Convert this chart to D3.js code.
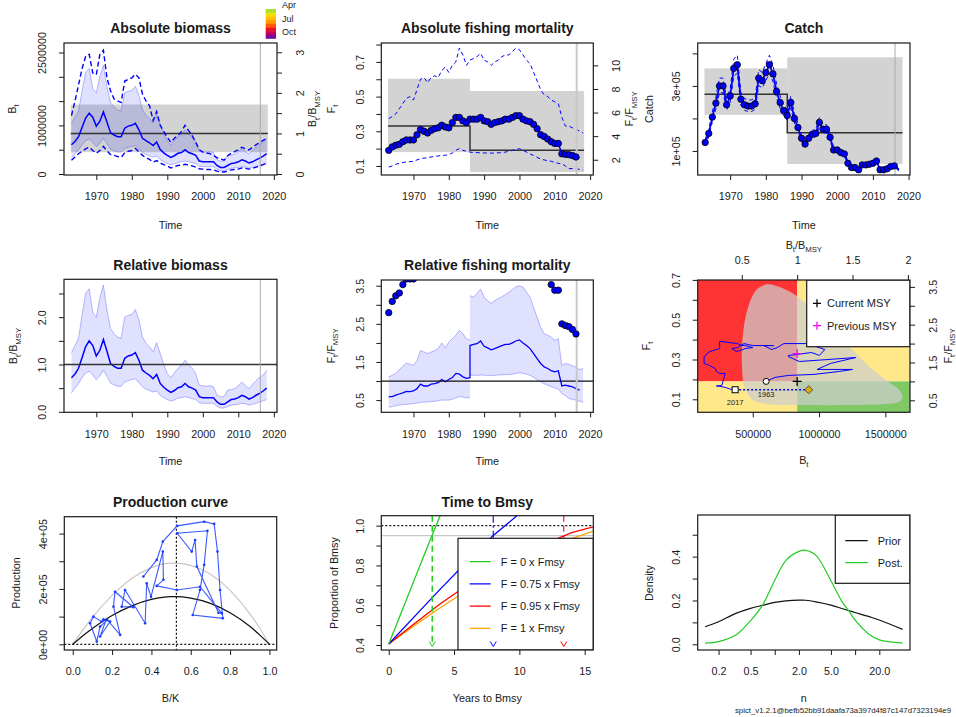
<!DOCTYPE html>
<html><head><meta charset="utf-8">
<script src="https://cdn.jsdelivr.net/npm/d3@7"></script>
<style>
body{margin:0;background:#fff;}
svg{display:block;}
</style></head><body>
<svg id="c" width="956" height="717"></svg>
<script>
// ---------------- DATA ----------------
const years = d3.range(1963, 2019); // 1963..2018
const relB   = [0.72,0.80,0.92,1.15,1.38,1.50,1.40,1.18,1.30,1.53,1.28,1.02,0.96,0.92,0.92,1.13,1.18,1.20,1.25,1.09,0.88,0.82,0.77,0.70,0.79,0.60,0.52,0.46,0.41,0.45,0.51,0.53,0.60,0.53,0.50,0.46,0.32,0.30,0.30,0.30,0.30,0.21,0.16,0.16,0.21,0.26,0.27,0.30,0.35,0.32,0.27,0.30,0.35,0.39,0.44,0.50];
const relBhi = [1.25,1.40,1.55,2.05,2.50,2.60,2.10,2.00,2.40,2.68,2.15,1.76,1.65,1.58,1.55,2.00,2.04,2.06,2.16,1.94,1.58,1.45,1.37,1.27,1.46,1.23,1.00,0.81,0.72,0.82,0.92,0.98,1.09,0.99,0.92,0.81,0.56,0.55,0.54,0.55,0.53,0.35,0.32,0.32,0.46,0.47,0.49,0.55,0.63,0.55,0.49,0.58,0.66,0.73,0.78,0.88];
const relBlo = [0.40,0.50,0.60,0.72,0.82,0.86,0.78,0.68,0.76,0.88,0.75,0.61,0.57,0.54,0.54,0.63,0.66,0.68,0.70,0.62,0.53,0.48,0.45,0.42,0.44,0.35,0.30,0.26,0.23,0.25,0.29,0.30,0.32,0.30,0.28,0.26,0.19,0.18,0.18,0.18,0.18,0.12,0.08,0.08,0.11,0.14,0.15,0.16,0.18,0.17,0.14,0.16,0.18,0.21,0.23,0.26];
// absolute biomass CI incl. reference point uncertainty (thousand tonnes)
const absBhiK = [1202,1503,1837,2171,2422,2463,2079,2046,2463,2547,1979,1712,1545,1503,1470,1912,1946,1979,2054,1979,1645,1503,1403,1102,1286,1002,877,752,651,735,793,877,1002,893,793,651,501,451,434,418,384,334,309,284,376,426,459,501,551,518,493,551,601,651,693,735];
const absBloK = [284,351,418,468,518,551,484,426,484,568,476,401,384,359,342,434,468,484,526,459,384,334,301,242,276,225,192,167,125,150,175,184,200,184,167,142,109,100,92,92,84,58,42,42,58,84,92,100,125,117,100,117,142,167,192,225];
const Bmsy = 835000;
const BmsyLo = 450000, BmsyHi = 1430000;

const fYears = d3.range(1963, 2018); // 1963..2017
const Fest = [0.19,0.21,0.22,0.225,0.24,0.25,0.25,0.25,0.28,0.31,0.30,0.29,0.305,0.315,0.32,0.335,0.325,0.32,0.35,0.38,0.38,0.36,0.35,0.37,0.37,0.37,0.38,0.36,0.355,0.34,0.35,0.355,0.36,0.37,0.37,0.38,0.39,0.39,0.37,0.36,0.355,0.34,0.315,0.28,0.27,0.255,0.24,0.23,0.23,0.17,0.167,0.165,0.16,0.152,0.148];
const Fhi = [0.373,0.385,0.40,0.43,0.46,0.49,0.50,0.48,0.54,0.60,0.61,0.58,0.61,0.62,0.61,0.65,0.67,0.64,0.68,0.70,0.78,0.74,0.68,0.71,0.72,0.73,0.75,0.71,0.70,0.68,0.70,0.71,0.73,0.74,0.74,0.76,0.78,0.77,0.74,0.71,0.69,0.64,0.59,0.54,0.51,0.50,0.48,0.47,0.46,0.38,0.33,0.33,0.32,0.315,0.30,0.29];
const Flo = [0.094,0.10,0.11,0.115,0.12,0.123,0.125,0.127,0.135,0.142,0.145,0.148,0.152,0.155,0.158,0.16,0.162,0.165,0.175,0.19,0.20,0.19,0.185,0.18,0.178,0.177,0.176,0.175,0.175,0.174,0.175,0.176,0.177,0.18,0.185,0.19,0.195,0.20,0.19,0.18,0.17,0.16,0.15,0.14,0.135,0.13,0.127,0.12,0.115,0.113,0.10,0.085,0.085,0.085,0.08,0.075];
const FmsyPrev = 0.068;   // scale of secondary F axis / points in relative F plot

// regimes (reference points)
const regStart = [1962.8, 1986], regEnd = [1986, 2018.3];
const FmsyR = [0.33, 0.19], FmsyRlo = [0.18, 0.065], FmsyRhi = [0.603, 0.532];
const MSYR = [2.74e5, 1.56e5], MSYRlo = [2.11e5, 0.60e5], MSYRhi = [3.54e5, 3.88e5];
const FmsyNow = 0.19;
const lastObs = 2016.2;

const cYears = d3.range(1963, 2017);
const catchT = [1.26e5,1.54e5,2.04e5,2.47e5,3.0e5,3.0e5,2.42e5,2.69e5,3.54e5,3.65e5,2.59e5,2.42e5,2.38e5,2.38e5,2.45e5,3.24e5,3.16e5,3.41e5,3.65e5,3.37e5,2.83e5,2.49e5,2.24e5,2.09e5,2.49e5,2.0e5,1.72e5,1.39e5,1.21e5,1.39e5,1.51e5,1.54e5,1.88e5,1.67e5,1.67e5,1.42e5,1.03e5,1.03e5,0.95e5,0.91e5,0.62e5,0.49e5,0.49e5,0.42e5,0.57e5,0.57e5,0.59e5,0.62e5,0.69e5,0.42e5,0.42e5,0.45e5,0.52e5,0.54e5];
const catchPredYear = 2017.3, catchPredVal = 0.42e5;
const catchCI = [0.93, 1.08];

const relFpreYears = d3.range(1963, 1987);
const relFpre   = [0.59,0.59,0.63,0.66,0.69,0.73,0.72,0.74,0.80,0.92,0.87,0.87,0.92,0.93,0.96,1.04,0.98,1.04,1.09,1.20,1.18,1.11,1.07,1.09];
const relFhiPre = [1.11,1.15,1.20,1.30,1.39,1.47,1.44,1.41,1.54,1.80,1.76,1.72,1.76,1.80,1.85,2.00,1.87,2.02,2.11,2.20,2.33,2.24,2.11,2.07];
const relFloPre = [0.31,0.33,0.35,0.37,0.38,0.39,0.40,0.41,0.42,0.44,0.45,0.45,0.46,0.47,0.48,0.50,0.50,0.50,0.52,0.56,0.59,0.58,0.56,0.56];
const relFpostYears = d3.range(1986, 2019);
const relFpost   = [1.93,1.96,1.98,2.05,1.91,1.87,1.82,1.85,1.89,1.93,1.96,1.96,2.0,2.05,2.08,2.0,1.93,1.85,1.72,1.59,1.46,1.37,1.33,1.27,1.24,1.27,0.87,0.89,0.87,0.85,0.80,0.76];
const relFhiPost = [3.24,3.20,3.30,3.41,3.20,3.11,3.04,3.11,3.16,3.21,3.27,3.33,3.40,3.47,3.50,3.46,3.33,3.20,2.93,2.67,2.41,2.24,2.20,2.15,2.07,2.11,1.41,1.46,1.44,1.40,1.37,1.30,1.33];
const relFloPost = [1.15,1.15,1.15,1.16,1.15,1.15,1.14,1.15,1.16,1.16,1.17,1.17,1.18,1.20,1.22,1.20,1.18,1.15,1.10,1.04,0.98,0.93,0.89,0.85,0.82,0.79,0.67,0.62,0.54,0.52,0.50,0.47,0.44];

// Kobe
const kobeCIB = [613,726,821,927,1028,1128,1254,1379,1505,1605,1631,1605,1505,1254,877,625,500,437,419,419,437,474,525,575]; // thousand t
const kobeCIF = [0.678,0.658,0.624,0.565,0.498,0.432,0.348,0.264,0.197,0.147,0.113,0.088,0.076,0.071,0.071,0.075,0.096,0.163,0.264,0.364,0.482,0.582,0.649,0.671];
const kobeEqB = 922000;

// production curve
const prodGrid = [0,0.05,0.1,0.2,0.3,0.4,0.5,0.52,0.6,0.7,0.8,0.9,0.95,1.0];
const prodCur  = [0,0.30e5,0.57e5,1.04e5,1.39e5,1.62e5,1.72e5,1.72e5,1.67e5,1.48e5,1.14e5,0.65e5,0.34e5,0];
const prodPrev = [0,0.50e5,0.97e5,1.77e5,2.38e5,2.77e5,2.93e5,2.93e5,2.85e5,2.53e5,1.95e5,1.11e5,0.59e5,0];
const BmsyK = 0.527;
const prodBK = [0.359,0.427,0.458,0.531,0.668,0.719,0.736,0.749,0.763,0.610,0.647,0.668,0.685,0.531,0.605,0.622,0.631,0.741,0.758,0.647,0.529,0.427,0.461,0.458,0.398,0.376,0.368,0.266,0.249,0.308,0.215,0.207,0.241,0.176,0.139,0.122,0.088,0.105,0.147,0.169,0.139,0.190,0.156];
const prodP  = [2.45e5,3.05e5,3.71e5,4.28e5,4.43e5,4.35e5,3.35e5,1.96e5,0.94e5,1.06e5,1.96e5,2.87e5,4.10e5,4.01e5,3.35e5,3.77e5,2.81e5,1.14e5,1.12e5,2.08e5,1.96e5,2.11e5,2.33e5,3.35e5,1.72e5,2.20e5,0.76e5,1.96e5,1.36e5,1.34e5,1.90e5,1.36e5,0.34e5,0.88e5,0.64e5,0.10e5,0.76e5,1.0e5,0.82e5,0.88e5,0.28e5,0.82e5,0.90e5];

// time to Bmsy
const ttbLabels = ["F = 0 x Fmsy","F = 0.75 x Fmsy","F = 0.95 x Fmsy","F = 1 x Fmsy"];
const ttbColors = ["#22cc22","#0000ff","#ff0000","#ffa500"];
const ttbT0 = [0,1,2,3,4],            ttbGreen = [0.405,0.57,0.735,0.90,1.06];
const ttbT1 = [0,2,4,6,8,10],         ttbBlue  = [0.405,0.545,0.685,0.82,0.95,1.06];
const ttbT2 = [0,2,4,6,8,10,12,14,16];
const ttbRed    = [0.405,0.51,0.61,0.70,0.78,0.85,0.91,0.965,1.0];
const ttbOrange = [0.405,0.50,0.59,0.675,0.75,0.82,0.88,0.935,0.98];
const ttbReach = [3.33, 8.0, 13.4];

// prior / posterior of n
const nGrid = [0.136,0.2,0.328,0.5,0.706,1,1.38,2,2.44,3.26,5,7,8.45,10,15,20,39];
const nPrior = [0.080,0.103,0.141,0.164,0.178,0.191,0.198,0.2015,0.201,0.194,0.179,0.162,0.153,0.145,0.126,0.111,0.068];
const nPost  = [0.005,0.012,0.042,0.108,0.179,0.292,0.383,0.424,0.429,0.406,0.29,0.19,0.15,0.11,0.045,0.02,0.005];

const monthLabels = ["Apr","Jul","Oct"];
const monthColors = ["#a6e22e","#f4e000","#ffc000","#ff9a00","#ff5a00","#f01020","#c8005a","#7a0a9a"];

// ---------------- HELPERS ----------------
const svg = d3.select("#c");
const FONT = "'Liberation Sans', Arial, Helvetica, sans-serif";
const INK = "#1a1a1a";
let clipN = 0;
function clipG(b){
  const id = "cp" + (clipN++);
  svg.append("clipPath").attr("id", id).append("rect")
    .attr("x", b.x0).attr("y", b.y0).attr("width", b.x1 - b.x0).attr("height", b.y1 - b.y0);
  return svg.append("g").attr("clip-path", `url(#${id})`);
}
function frame(b){
  svg.append("rect").attr("x", b.x0).attr("y", b.y0).attr("width", b.x1 - b.x0).attr("height", b.y1 - b.y0)
    .attr("fill", "none").attr("stroke", INK).attr("stroke-width", 1.2);
}
function near(a, b){ return Math.abs(a - b) < 1e-9 * Math.max(1, Math.abs(b)); }
function axis(side, scale, b, ticks, labels, fmt){
  const A = {bottom: d3.axisBottom, top: d3.axisTop, left: d3.axisLeft, right: d3.axisRight}[side];
  const ax = A(scale).tickValues(ticks).tickSize(5)
    .tickFormat(d => labels.some(v => near(v, d)) ? fmt(d) : "");
  const pos = {bottom: [0, b.y1], top: [0, b.y0], left: [b.x0, 0], right: [b.x1, 0]}[side];
  const g = svg.append("g").attr("transform", `translate(${pos[0]},${pos[1]})`).call(ax);
  g.select(".domain").remove();
  g.selectAll(".tick line").attr("stroke", INK).attr("stroke-width", 1);
  const t = g.selectAll(".tick text").attr("fill", INK).attr("font-size", 10.8).attr("font-family", FONT);
  if (side === "bottom") t.attr("y", 21.7).attr("dy", "0.35em");
  if (side === "top") t.attr("y", -19.5).attr("dy", "0.35em");
  if (side === "left") t.attr("x", 0).attr("y", -21.5).attr("dy", "0.35em").attr("text-anchor", "middle").attr("transform", "rotate(-90)");
  if (side === "right") t.attr("x", 0).attr("y", 23).attr("dy", "0.35em").attr("text-anchor", "middle").attr("transform", "rotate(-90)");
}
function label(x, y, parts, rot, size = 10.8, anchor = "middle", color = INK){
  const g = svg.append("g").attr("transform", `translate(${x},${y})${rot ? " rotate(-90)" : ""}`);
  const t = g.append("text").attr("font-size", size).attr("font-family", FONT).attr("fill", color)
    .attr("text-anchor", anchor).attr("dy", "0.35em");
  if (typeof parts === "string") parts = [[parts, false]];
  let sub = false;
  parts.forEach(([s, isSub]) => {
    const ts = t.append("tspan").text(s);
    if (isSub) { ts.attr("font-size", size * 0.72); if (!sub) ts.attr("dy", size * 0.3); sub = true; }
    else { if (sub) ts.attr("dy", -size * 0.3); sub = false; }
  });
  return t;
}
function title(b, s, y){
  svg.append("text").attr("x", (b.x0 + b.x1) / 2).attr("y", y).attr("text-anchor", "middle").attr("dy", "0.35em")
    .attr("font-weight", "bold").attr("font-size", 14).attr("font-family", FONT).attr("fill", INK).text(s);
}
function line(g, xs, ys, sx, sy, attrs, curve){
  const l = d3.line().x((d, i) => sx(xs[i])).y((d, i) => sy(ys[i]));
  if (curve) l.curve(curve);
  const p = g.append("path").datum(ys).attr("d", l).attr("fill", "none");
  Object.entries(attrs).forEach(([k, v]) => p.attr(k, v));
  return p;
}
function band(g, xs, lo, hi, sx, sy, fill, edge){
  const a = d3.area().x((d, i) => sx(xs[i])).y0((d, i) => sy(lo[i])).y1((d, i) => sy(hi[i]));
  g.append("path").datum(lo).attr("d", a).attr("fill", fill);
  if (edge) {
    line(g, xs, lo, sx, sy, {stroke: edge, "stroke-width": 1});
    line(g, xs, hi, sx, sy, {stroke: edge, "stroke-width": 1});
  }
}
const fmtD = d3.format("d"), fmt1 = d3.format(".1f");
const fmtE = d => d.toExponential(0).replace(/e([+-])(\d)$/, "e$10$2");
const yearTicks = [1970, 1980, 1990, 2000, 2010, 2020];
const lavender = "rgba(0,0,255,0.12)", lavEdge = "rgba(60,60,255,0.35)";

// ---------------- PANEL 1: Absolute biomass ----------------
const b1 = {x0: 64, x1: 277, y0: 43, y1: 175};
const xT = d3.scaleLinear([1960.9, 2020.9], [b1.x0, b1.x1]);
const yB = d3.scaleLinear([-20600, 2696000], [b1.y1, b1.y0]);
const yBr = d3.scaleLinear([-20600 / Bmsy, 2696000 / Bmsy], [b1.y1, b1.y0]);
{
  const g = clipG(b1);
  g.append("rect").attr("x", xT(regStart[0])).attr("width", xT(regEnd[1]) - xT(regStart[0]))
    .attr("y", yB(BmsyHi)).attr("height", yB(BmsyLo) - yB(BmsyHi)).attr("fill", "#d3d3d3");
  band(g, years, relBlo.map(v => v * Bmsy), relBhi.map(v => v * Bmsy), xT, yB, lavender, lavEdge);
  g.append("line").attr("x1", xT(regStart[0])).attr("x2", xT(regEnd[1])).attr("y1", yB(Bmsy)).attr("y2", yB(Bmsy))
    .attr("stroke", "#333").attr("stroke-width", 1.5);
  line(g, years, absBhiK.map(v => v * 1000), xT, yB, {stroke: "#0000ff", "stroke-width": 1.4, "stroke-dasharray": "5,3"});
  line(g, years, absBloK.map(v => v * 1000), xT, yB, {stroke: "#0000ff", "stroke-width": 1.4, "stroke-dasharray": "5,3"});
  line(g, years, relB.map(v => v * Bmsy), xT, yB, {stroke: "#0000ff", "stroke-width": 1.5});
  g.append("line").attr("x1", xT(lastObs)).attr("x2", xT(lastObs)).attr("y1", b1.y0).attr("y2", b1.y1).attr("stroke", "#aaa");
  frame(b1);
  axis("bottom", xT, b1, yearTicks, yearTicks, fmtD);
  axis("left", yB, b1, d3.range(0, 2500001, 500000), [0, 1000000, 2500000], fmtD);
  axis("right", yBr, b1, d3.range(0, 3.01, 0.5), [0, 1, 2, 3], fmtD);
  title(b1, "Absolute biomass", 28);
  label(12, 109, [["B", false], ["t", true]], true);
  label(312.5, 109, [["B", false], ["t", true], ["/", false], ["B", false], ["MSY", true]], true);
  label(170.5, 225, "Time", false);
  // month colour key
  const my = d3.scaleBand().domain(d3.range(monthColors.length)).range([9, 38.5]);
  svg.selectAll("rect.mk").data(monthColors).join("rect").attr("class", "mk")
    .attr("x", 265.7).attr("width", 10.3).attr("y", (d, i) => my(i)).attr("height", my.bandwidth() + 0.3).attr("fill", d => d);
  const ml = d3.scaleLinear([0, 2], [5, 31.7]);
  monthLabels.forEach((m, i) => svg.append("text").attr("x", 282).attr("y", ml(i)).attr("dy", "0.35em")
    .attr("font-size", 9).attr("font-family", FONT).attr("fill", INK).text(m));
}

// ---------------- PANEL 2: Absolute fishing mortality ----------------
const b2 = {x0: 381.3, x1: 593.3, y0: 43, y1: 175};
const xT2 = d3.scaleLinear([1960.9, 2020.9], [b2.x0, b2.x1]);
const yF = d3.scaleLinear([0.048, 0.809], [b2.y1, b2.y0]);
const yFr = d3.scaleLinear([0.048 / FmsyPrev, 0.809 / FmsyPrev], [b2.y1, b2.y0]);
{
  const g = clipG(b2);
  regStart.forEach((s, i) => g.append("rect").attr("x", xT2(s)).attr("width", xT2(regEnd[i]) - xT2(s))
    .attr("y", yF(FmsyRhi[i])).attr("height", yF(FmsyRlo[i]) - yF(FmsyRhi[i])).attr("fill", "#d3d3d3"));
  const stepX = [regStart[0], regEnd[0], regStart[1], regEnd[1]];
  const stepY = [FmsyR[0], FmsyR[0], FmsyR[1], FmsyR[1]];
  line(g, stepX, stepY, xT2, yF, {stroke: "#333", "stroke-width": 1.5});
  line(g, years, Fhi, xT2, yF, {stroke: "#0000ff", "stroke-width": 1, "stroke-dasharray": "4,3"});
  line(g, years, Flo, xT2, yF, {stroke: "#0000ff", "stroke-width": 1, "stroke-dasharray": "4,3"});
  line(g, fYears, Fest, xT2, yF, {stroke: "#0000ff", "stroke-width": 1.5});
  g.append("line").attr("x1", xT2(lastObs)).attr("x2", xT2(lastObs)).attr("y1", b2.y0).attr("y2", b2.y1).attr("stroke", "#c8c8c8").attr("stroke-width", 2);
  g.selectAll("circle.fp").data(Fest.slice(0, 54)).join("circle").attr("class", "fp")
    .attr("cx", (d, i) => xT2(fYears[i])).attr("cy", d => yF(d)).attr("r", 3.2)
    .attr("fill", "#0000ff").attr("stroke", "#000").attr("stroke-width", 0.8);
  frame(b2);
  axis("bottom", xT2, b2, yearTicks, yearTicks, fmtD);
  axis("left", yF, b2, d3.range(0.1, 0.801, 0.1), [0.1, 0.3, 0.5, 0.7], fmt1);
  axis("right", yFr, b2, [2, 4, 6, 8, 10], [2, 4, 6, 8, 10], fmtD);
  title(b2, "Absolute fishing mortality", 28);
  label(331, 109, [["F", false], ["t", true]], true);
  label(629.5, 109, [["F", false], ["t", true], ["/", false], ["F", false], ["MSY", true]], true);
  label((b2.x0 + b2.x1) / 2, 225, "Time", false);
}

// ---------------- PANEL 3: Catch ----------------
const b3 = {x0: 697.7, x1: 910, y0: 43, y1: 175};
const xT3 = d3.scaleLinear([1960.9, 2020.4], [b3.x0, b3.x1]);
const yC = d3.scaleLinear([0.26e5, 4.32e5], [b3.y1, b3.y0]);
{
  const g = clipG(b3);
  regStart.forEach((s, i) => g.append("rect").attr("x", xT3(s)).attr("width", xT3(regEnd[i]) - xT3(s))
    .attr("y", yC(MSYRhi[i])).attr("height", yC(MSYRlo[i]) - yC(MSYRhi[i])).attr("fill", "#d3d3d3"));
  const stepX = [regStart[0], regEnd[0], regStart[1], regEnd[1]];
  const stepY = [MSYR[0], MSYR[0], MSYR[1], MSYR[1]];
  line(g, stepX, stepY, xT3, yC, {stroke: "#333", "stroke-width": 1.5});
  const cx = cYears.concat([catchPredYear]), cy = catchT.concat([catchPredVal]);
  line(g, cx, cy.map(v => v * catchCI[1]), xT3, yC, {stroke: "#0000ff", "stroke-width": 1, "stroke-dasharray": "4,3"});
  line(g, cx, cy.map(v => v * catchCI[0]), xT3, yC, {stroke: "#0000ff", "stroke-width": 1, "stroke-dasharray": "4,3"});
  line(g, cx, cy, xT3, yC, {stroke: "#0000ff", "stroke-width": 1.8});
  g.append("line").attr("x1", xT3(lastObs)).attr("x2", xT3(lastObs)).attr("y1", b3.y0).attr("y2", b3.y1).attr("stroke", "#aaa");
  g.selectAll("circle.cp").data(catchT).join("circle").attr("class", "cp")
    .attr("cx", (d, i) => xT3(cYears[i])).attr("cy", d => yC(d)).attr("r", 3.2)
    .attr("fill", "#0000ff").attr("stroke", "#000").attr("stroke-width", 0.8);
  frame(b3);
  axis("bottom", xT3, b3, yearTicks, yearTicks, fmtD);
  axis("left", yC, b3, [1e5, 2e5, 3e5, 4e5], [1e5, 3e5], fmtE);
  title(b3, "Catch", 28);
  label(649, 109, "Catch", true);
  label((b3.x0 + b3.x1) / 2, 225, "Time", false);
}

// ---------------- PANEL 4: Relative biomass ----------------
const b4 = {x0: 64, x1: 277, y0: 279.3, y1: 412.3};
const yRB = d3.scaleLinear([-0.01, 2.80], [b4.y1, b4.y0]);
{
  const g = clipG(b4);
  band(g, years, relBlo, relBhi, xT, yRB, lavender, lavEdge);
  line(g, years, relB, xT, yRB, {stroke: "#0000ff", "stroke-width": 1.5});
  g.append("line").attr("x1", b4.x0).attr("x2", b4.x1).attr("y1", yRB(1)).attr("y2", yRB(1)).attr("stroke", "#333").attr("stroke-width", 1.5);
  g.append("line").attr("x1", xT(lastObs)).attr("x2", xT(lastObs)).attr("y1", b4.y0).attr("y2", b4.y1).attr("stroke", "#aaa");
  frame(b4);
  axis("bottom", xT, b4, yearTicks, yearTicks, fmtD);
  axis("left", yRB, b4, [0, 0.5, 1, 1.5, 2, 2.5], [0, 1, 2], fmt1);
  title(b4, "Relative biomass", 265);
  label(13.5, 346, [["B", false], ["t", true], ["/", false], ["B", false], ["MSY", true]], true);
  label(170.5, 461.7, "Time", false);
}

// ---------------- PANEL 5: Relative fishing mortality ----------------
const b5 = {x0: 381.3, x1: 593.3, y0: 280, y1: 412.3};
const yRF = d3.scaleLinear([0.18, 3.65], [b5.y1, b5.y0]);
{
  const g = clipG(b5);
  band(g, relFpreYears, relFloPre, relFhiPre, xT2, yRF, lavender, lavEdge);
  band(g, relFpostYears, relFloPost, relFhiPost, xT2, yRF, lavender, lavEdge);
  const lx = relFpreYears.concat(relFpostYears.slice(0, relFpost.length));
  const ly = relFpre.concat(relFpost);
  line(g, lx, ly, xT2, yRF, {stroke: "#0000ff", "stroke-width": 1.3});
  g.append("line").attr("x1", b5.x0).attr("x2", b5.x1).attr("y1", yRF(1)).attr("y2", yRF(1)).attr("stroke", "#111").attr("stroke-width", 1.3);
  g.append("line").attr("x1", xT2(lastObs)).attr("x2", xT2(lastObs)).attr("y1", b5.y0).attr("y2", b5.y1).attr("stroke", "#c8c8c8").attr("stroke-width", 2);
  g.selectAll("circle.rp").data(Fest.slice(0, 54)).join("circle").attr("class", "rp")
    .attr("cx", (d, i) => xT2(fYears[i])).attr("cy", d => yRF(d / FmsyPrev)).attr("r", 3.2)
    .attr("fill", "#0000ff").attr("stroke", "#000").attr("stroke-width", 0.8);
  frame(b5);
  axis("bottom", xT2, b5, yearTicks, yearTicks, fmtD);
  axis("left", yRF, b5, d3.range(0.5, 3.51, 0.5), [0.5, 1.5, 2.5, 3.5], fmt1);
  title(b5, "Relative fishing mortality", 265);
  label(331, 346, [["F", false], ["t", true], ["/", false], ["F", false], ["MSY", true]], true);
  label((b5.x0 + b5.x1) / 2, 461.7, "Time", false);
}

// ---------------- PANEL 6: Kobe ----------------
const b6 = {x0: 697.7, x1: 910, y0: 280, y1: 412.3};
const xKB = d3.scaleLinear([85000, 1686000], [b6.x0, b6.x1]);
const xKr = d3.scaleLinear([85000 / Bmsy, 1686000 / Bmsy], [b6.x0, b6.x1]);
const yKF = d3.scaleLinear([0.0347, 0.6995], [b6.y1, b6.y0]);
const yKr = d3.scaleLinear([0.0347 / FmsyNow, 0.6995 / FmsyNow], [b6.y1, b6.y0]);
{
  const g = clipG(b6);
  const xm = xKB(Bmsy), ym = yKF(FmsyNow);
  g.append("rect").attr("x", b6.x0).attr("y", b6.y0).attr("width", xm - b6.x0).attr("height", ym - b6.y0).attr("fill", "#ff3333");
  g.append("rect").attr("x", xm).attr("y", b6.y0).attr("width", b6.x1 - xm).attr("height", ym - b6.y0).attr("fill", "#ffe88a");
  g.append("rect").attr("x", b6.x0).attr("y", ym).attr("width", xm - b6.x0).attr("height", b6.y1 - ym).attr("fill", "#ffe88a");
  g.append("rect").attr("x", xm).attr("y", ym).attr("width", b6.x1 - xm).attr("height", b6.y1 - ym).attr("fill", "#80c864");
  const ci = d3.line().x((d, i) => xKB(kobeCIB[i] * 1000)).y((d, i) => yKF(kobeCIF[i])).curve(d3.curveCatmullRomClosed);
  g.append("path").datum(kobeCIF).attr("d", ci).attr("fill", "rgba(205,205,205,0.72)");
  const kb = relB.slice(0, Fest.length).map(v => v * Bmsy);
  line(g, kb, Fest, xKB, yKF, {stroke: "#0000ff", "stroke-width": 1});
  const n = Fest.length - 1;
  g.append("line").attr("x1", xKB(kb[n])).attr("x2", xKB(kobeEqB)).attr("y1", yKF(Fest[n])).attr("y2", yKF(Fest[n]))
    .attr("stroke", "#0000ff").attr("stroke-width", 1.5).attr("stroke-dasharray", "2,2");
  g.append("circle").attr("cx", xKB(kb[0])).attr("cy", yKF(Fest[0])).attr("r", 3).attr("fill", "#fff").attr("stroke", "#000");
  g.append("rect").attr("x", xKB(kb[n]) - 3).attr("y", yKF(Fest[n]) - 3).attr("width", 6).attr("height", 6).attr("fill", "#fff").attr("stroke", "#000");
  const dx = xKB(kobeEqB), dy = yKF(Fest[n]);
  g.append("path").attr("d", `M${dx},${dy - 4}L${dx + 4},${dy}L${dx},${dy + 4}L${dx - 4},${dy}Z`).attr("fill", "#e0a800").attr("stroke", "#333").attr("stroke-width", 0.8);
  g.append("text").attr("x", xKB(kb[0])).attr("y", yKF(Fest[0]) + 13).attr("dy", "0.35em").attr("text-anchor", "middle")
    .attr("font-size", 7.5).attr("font-family", FONT).attr("fill", INK).text(years[0]);
  g.append("text").attr("x", xKB(kb[n])).attr("y", yKF(Fest[n]) + 13).attr("dy", "0.35em").attr("text-anchor", "middle")
    .attr("font-size", 7.5).attr("font-family", FONT).attr("fill", INK).text(fYears[n]);
  const plus = (x, y, c, s) => g.append("path").attr("d", `M${x - s},${y}H${x + s}M${x},${y - s}V${y + s}`).attr("stroke", c).attr("stroke-width", 1.3);
  plus(xm, yKF(FmsyR[0]), "#ff00ff", 4.5);
  plus(xm, ym, "#000", 4.5);
  // legend
  g.append("rect").attr("x", 806.7).attr("y", b6.y0).attr("width", b6.x1 - 806.7).attr("height", 66.7).attr("fill", "#fff").attr("stroke", INK).attr("stroke-width", 1.2);
  [["Current MSY", "#000"], ["Previous MSY", "#ff00ff"]].forEach(([t, c], i) => {
    const yy = 303.3 + i * 22.4;
    g.append("path").attr("d", `M${813},${yy}H${821}M${817},${yy - 4}V${yy + 4}`).attr("stroke", c).attr("stroke-width", 1.3);
    g.append("text").attr("x", 827).attr("y", yy).attr("dy", "0.35em").attr("font-size", 11).attr("font-family", FONT).attr("fill", INK).text(t);
  });
  frame(b6);
  axis("bottom", xKB, b6, [500000, 1000000, 1500000], [500000, 1000000, 1500000], fmtD);
  axis("top", xKr, b6, [0.5, 1, 1.5, 2], [0.5, 1, 1.5, 2], d => d3.format("")(d));
  axis("left", yKF, b6, d3.range(0.1, 0.701, 0.1), [0.1, 0.3, 0.5, 0.7], fmt1);
  axis("right", yKr, b6, d3.range(0.5, 3.51, 0.5), [0.5, 1.5, 2.5, 3.5], fmt1);
  label(646, 346, [["F", false], ["t", true]], true);
  label(948, 346, [["F", false], ["t", true], ["/", false], ["F", false], ["MSY", true]], true);
  label((b6.x0 + b6.x1) / 2, 245, [["B", false], ["t", true], ["/", false], ["B", false], ["MSY", true]], false);
  label((b6.x0 + b6.x1) / 2, 460, [["B", false], ["t", true]], false);
}

// ---------------- PANEL 7: Production curve ----------------
const b7 = {x0: 64.3, x1: 276.7, y0: 516.7, y1: 650};
const xPK = d3.scaleLinear([-0.043, 1.037], [b7.x0, b7.x1]);
const yP = d3.scaleLinear([-0.206e5, 4.61e5], [b7.y1, b7.y0]);
{
  const g = clipG(b7);
  line(g, prodGrid, prodPrev, xPK, yP, {stroke: "#c8c8c8", "stroke-width": 1.2}, d3.curveMonotoneX);
  line(g, prodGrid, prodCur, xPK, yP, {stroke: "#111", "stroke-width": 1.2}, d3.curveMonotoneX);
  g.append("line").attr("x1", b7.x0).attr("x2", b7.x1).attr("y1", yP(0)).attr("y2", yP(0)).attr("stroke", "#111").attr("stroke-width", 1.2).attr("stroke-dasharray", "2,2");
  g.append("line").attr("x1", xPK(BmsyK)).attr("x2", xPK(BmsyK)).attr("y1", b7.y0).attr("y2", b7.y1).attr("stroke", "#111").attr("stroke-width", 1.2).attr("stroke-dasharray", "2,2");
  line(g, prodBK, prodP, xPK, yP, {stroke: "#1a3cff", "stroke-width": 1.1, "stroke-opacity": 0.85});
  g.selectAll("circle.pp").data(prodP).join("circle").attr("class", "pp")
    .attr("cx", (d, i) => xPK(prodBK[i])).attr("cy", d => yP(d)).attr("r", 1.3).attr("fill", "#1a3cff");
  frame(b7);
  axis("bottom", xPK, b7, d3.range(0, 1.001, 0.2), d3.range(0, 1.001, 0.2), fmt1);
  axis("left", yP, b7, [0, 1e5, 2e5, 3e5, 4e5], [0, 2e5, 4e5], fmtE);
  title(b7, "Production curve", 501.7);
  label(16, 583, "Production", true);
  label((b7.x0 + b7.x1) / 2, 698, "B/K", false);
}

// ---------------- PANEL 8: Time to Bmsy ----------------
const b8 = {x0: 381.3, x1: 593.3, y0: 515.7, y1: 650};
const xY = d3.scaleLinear([-0.57, 15.66], [b8.x0, b8.x1]);
const yPB = d3.scaleLinear([0.375, 1.05], [b8.y1, b8.y0]);
{
  const g = clipG(b8);
  g.append("line").attr("x1", b8.x0).attr("x2", b8.x1).attr("y1", yPB(0.95)).attr("y2", yPB(0.95)).attr("stroke", "#c8c8c8").attr("stroke-width", 1.2);
  g.append("line").attr("x1", b8.x0).attr("x2", b8.x1).attr("y1", yPB(1)).attr("y2", yPB(1)).attr("stroke", "#111").attr("stroke-width", 1.2).attr("stroke-dasharray", "2,2");
  line(g, ttbT2, ttbOrange, xY, yPB, {stroke: ttbColors[3], "stroke-width": 1.3});
  line(g, ttbT2, ttbRed, xY, yPB, {stroke: ttbColors[2], "stroke-width": 1.3});
  line(g, ttbT1, ttbBlue, xY, yPB, {stroke: ttbColors[1], "stroke-width": 1.3});
  line(g, ttbT0, ttbGreen, xY, yPB, {stroke: ttbColors[0], "stroke-width": 1.3});
  const dashes = ["6,4", "7,3,2,3", "6,4"];
  ttbReach.forEach((t, i) => g.append("line").attr("x1", xY(t)).attr("x2", xY(t)).attr("y1", b8.y0).attr("y2", 646)
    .attr("stroke", ttbColors[i]).attr("stroke-width", i === 0 ? 1.5 : 1.1).attr("stroke-dasharray", dashes[i]));
  // legend
  g.append("rect").attr("x", 458).attr("y", 538.3).attr("width", b8.x1 - 458).attr("height", b8.y1 - 538.3)
    .attr("fill", "#fff").attr("stroke", INK).attr("stroke-width", 1.2);
  ttbLabels.forEach((t, i) => {
    const yy = 561.7 + i * 22.2;
    g.append("line").attr("x1", 469.7).attr("x2", 490.7).attr("y1", yy).attr("y2", yy).attr("stroke", ttbColors[i]).attr("stroke-width", 1.3);
    g.append("text").attr("x", 500.7).attr("y", yy).attr("dy", "0.35em").attr("font-size", 11).attr("font-family", FONT).attr("fill", INK).text(t);
  });
  ttbReach.forEach((t, i) => {
    const x = xY(t);
    g.append("path").attr("d", `M${x - 3},${641.5}L${x},${646.5}L${x + 3},${641.5}`).attr("fill", "none").attr("stroke", ttbColors[i]).attr("stroke-width", 1);
  });
  frame(b8);
  axis("bottom", xY, b8, [0, 5, 10, 15], [0, 5, 10, 15], fmtD);
  axis("left", yPB, b8, d3.range(0.4, 1.001, 0.1), [0.4, 0.6, 0.8, 1.0], fmt1);
  title(b8, "Time to Bmsy", 501.7);
  label(334, 583, "Proportion of Bmsy", true);
  label((b8.x0 + b8.x1) / 2, 698, "Years to Bmsy", false);
}

// ---------------- PANEL 9: prior/posterior of n ----------------
const b9 = {x0: 697.7, x1: 910, y0: 515, y1: 650};
const xN = d3.scaleLog([0.11, 48.2], [b9.x0, b9.x1]);
const yD = d3.scaleLinear([-0.026, 0.59], [b9.y1, b9.y0]);
{
  const g = clipG(b9);
  const lg = d3.line().x((d, i) => xN(nGrid[i])).y(d => yD(d)).curve(d3.curveCatmullRom);
  g.append("path").datum(nPrior).attr("d", lg).attr("fill", "none").attr("stroke", "#111").attr("stroke-width", 1.2);
  g.append("path").datum(nPost).attr("d", lg).attr("fill", "none").attr("stroke", "#22cc22").attr("stroke-width", 1.2);
  g.append("rect").attr("x", 835.3).attr("y", b9.y0).attr("width", b9.x1 - 835.3).attr("height", 68.3)
    .attr("fill", "#fff").attr("stroke", INK).attr("stroke-width", 1.2);
  [["Prior", "#111"], ["Post.", "#22cc22"]].forEach(([t, c], i) => {
    const yy = 540.7 + i * 22;
    g.append("line").attr("x1", 845.3).attr("x2", 867.7).attr("y1", yy).attr("y2", yy).attr("stroke", c).attr("stroke-width", 1.3);
    g.append("text").attr("x", 877.7).attr("y", yy).attr("dy", "0.35em").attr("font-size", 11).attr("font-family", FONT).attr("fill", INK).text(t);
  });
  frame(b9);
  axis("bottom", xN, b9, [0.2, 0.5, 1, 2, 5, 10, 20], [0.2, 0.5, 2, 5, 20], fmt1);
  axis("left", yD, b9, d3.range(0, 0.501, 0.1), [0, 0.2, 0.4], fmt1);
  label(649, 583, "Density", true);
  label((b9.x0 + b9.x1) / 2, 698, "n", false);
}
svg.append("text").attr("x", 951).attr("y", 710).attr("dy", "0.35em").attr("text-anchor", "end")
  .attr("font-size", 7.8).attr("font-family", FONT).attr("fill", INK)
  .text("spict_v1.2.1@befb52bb91daafa73a397d4f87c147d7323194e9");
</script>
</body></html>
